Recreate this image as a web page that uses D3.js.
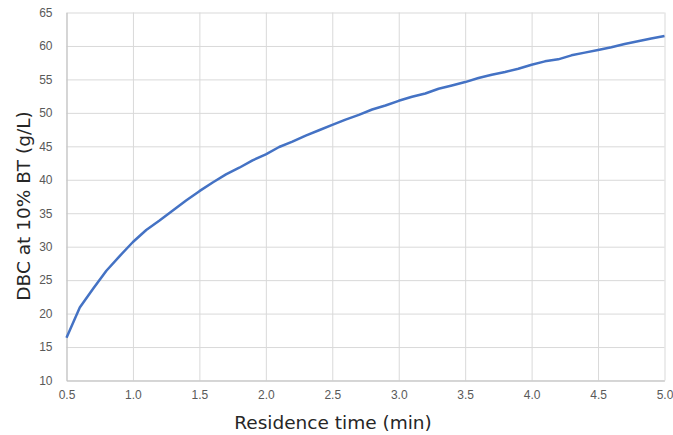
<!DOCTYPE html>
<html>
<head>
<meta charset="utf-8">
<script src="https://cdn.jsdelivr.net/npm/d3@7"></script>
<style>
  body { margin: 0; background: #fff; }
  svg { display: block; font-family: "DejaVu Sans", Verdana, sans-serif; }
</style>
</head>
<body>
<svg id="chart" width="673" height="435"></svg>
<script>
// residence time (min) and DBC at 10% breakthrough (g/L)
var times = [0.5, 0.6, 0.7, 0.8, 0.9, 1.0, 1.1, 1.2, 1.3, 1.4, 1.5, 1.6, 1.7, 1.8, 1.9,
             2.0, 2.1, 2.2, 2.3, 2.4, 2.5, 2.6, 2.7, 2.8, 2.9, 3.0, 3.1, 3.2, 3.3, 3.4,
             3.5, 3.6, 3.7, 3.8, 3.9, 4.0, 4.1, 4.2, 4.3, 4.4, 4.5, 4.6, 4.7, 4.8, 4.9, 5.0]
var dbc = [16.4, 20.9, 23.7, 26.4, 28.6, 30.7, 32.5, 33.9, 35.4, 36.9, 38.3, 39.6, 40.8, 41.8, 42.9,
           43.8, 44.9, 45.7, 46.6, 47.4, 48.2, 49.0, 49.7, 50.5, 51.1, 51.8, 52.4, 52.9, 53.6, 54.1,
           54.6, 55.2, 55.7, 56.1, 56.6, 57.2, 57.7, 58.0, 58.6, 59.0, 59.4, 59.8, 60.3, 60.7, 61.1, 61.5]
var xTicks = [0.5, 1.0, 1.5, 2.0, 2.5, 3.0, 3.5, 4.0, 4.5, 5.0]
var yTicks = [10, 15, 20, 25, 30, 35, 40, 45, 50, 55, 60, 65]

var svg = d3.select("#chart")
var margin = { top: 12.5, right: 8.5, bottom: 54.5, left: 66.5 }
var width = +svg.attr("width")
var height = +svg.attr("height")

var x = d3.scaleLinear()
    .domain([0.5, 5.0])
    .range([margin.left, width - margin.right])

var y = d3.scaleLinear()
    .domain([10, 65])
    .range([height - margin.bottom, margin.top])

// vertical gridlines
svg.append("g")
    .attr("transform", `translate(0,${height - margin.bottom})`)
    .call(d3.axisBottom(x).tickValues(xTicks).tickSize(-(height - margin.bottom - margin.top)).tickFormat(""))
    .call(g => g.select(".domain").remove())
    .call(g => g.selectAll(".tick line").attr("stroke", "#d9d9d9"))

// horizontal gridlines
svg.append("g")
    .attr("transform", `translate(${margin.left},0)`)
    .call(d3.axisLeft(y).tickValues(yTicks).tickSize(-(width - margin.left - margin.right)).tickFormat(""))
    .call(g => g.select(".domain").remove())
    .call(g => g.selectAll(".tick line").attr("stroke", "#d9d9d9"))

// axes (labels only, Excel style)
svg.append("g")
    .attr("transform", `translate(0,${height - margin.bottom})`)
    .call(d3.axisBottom(x).tickValues(xTicks).tickSize(0).tickPadding(10).tickFormat(d3.format(".1f")))
    .call(g => g.select(".domain").attr("stroke", "#bfbfbf"))
    .call(g => g.selectAll("text").attr("fill", "#595959").attr("font-size", 12))

svg.append("g")
    .attr("transform", `translate(${margin.left},0)`)
    .call(d3.axisLeft(y).tickValues(yTicks).tickSize(0).tickPadding(14))
    .call(g => g.select(".domain").attr("stroke", "#bfbfbf"))
    .call(g => g.selectAll("text").attr("fill", "#595959").attr("font-size", 12))

// the curve
var line = d3.line()
    .x(d => x(d[0]))
    .y(d => y(d[1]))

svg.append("path")
    .datum(times.map((t, i) => [t, dbc[i]]))
    .attr("fill", "none")
    .attr("stroke", "#4472c4")
    .attr("stroke-width", 2.5)
    .attr("stroke-linejoin", "round")
    .attr("d", line)

// axis titles
svg.append("text")
    .attr("x", 333)
    .attr("y", 428.5)
    .attr("text-anchor", "middle")
    .attr("font-size", 18.5)
    .attr("fill", "#262626")
    .text("Residence time (min)")

svg.append("text")
    .attr("transform", "translate(29.5,206) rotate(-90)")
    .attr("text-anchor", "middle")
    .attr("font-size", 18.5)
    .attr("fill", "#262626")
    .text("DBC at 10% BT (g/L)")
</script>
</body>
</html>
